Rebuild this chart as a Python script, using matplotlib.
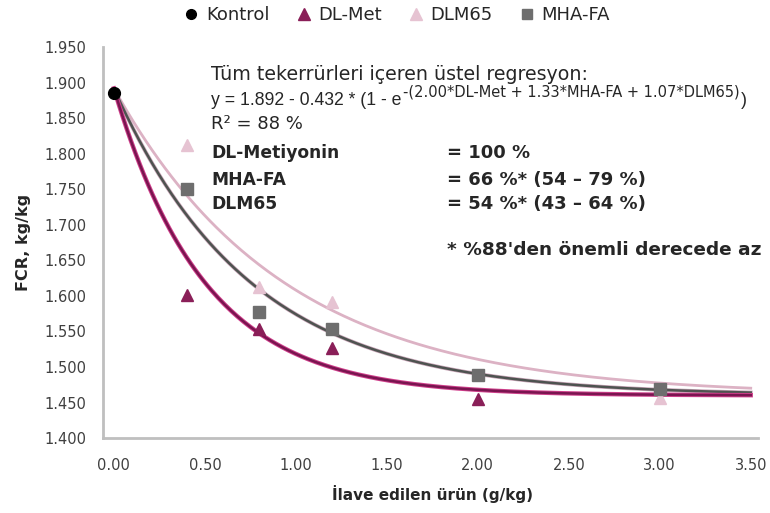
import numpy as np
import matplotlib
matplotlib.use("Agg")
import matplotlib.pyplot as plt
from matplotlib.lines import Line2D
import matplotlib.patheffects as pe

plt.rcParams['font.family'] = ['DejaVu Sans']

# Observed FCR values per dose (g/kg)
kontrol_x = [0.0]
kontrol_y = [1.885]

dlmet_x = [0.4, 0.8, 1.2, 2.0]
dlmet_y = [1.602, 1.553, 1.527, 1.455]

dlm65_x = [0.4, 0.8, 1.2, 3.0]
dlm65_y = [1.812, 1.612, 1.591, 1.457]

mhafa_x = [0.4, 0.8, 1.2, 2.0, 3.0]
mhafa_y = [1.750, 1.577, 1.553, 1.489, 1.469]

# Exponential regression coefficients
intercept = 1.892
span = 0.432
rate_dlmet = 2.00
rate_mhafa = 1.33
rate_dlm65 = 1.07

x_ticks = [0.0, 0.5, 1.0, 1.5, 2.0, 2.5, 3.0, 3.5]
y_ticks = [1.40, 1.45, 1.50, 1.55, 1.60, 1.65, 1.70, 1.75, 1.80, 1.85, 1.90, 1.95]

c_kontrol = "#000000"
c_dlmet = "#8a1f58"
c_dlm65 = "#e6c3d2"
c_mhafa = "#6e6e6e"

fig = plt.figure(figsize=(7.7, 5.13), dpi=100)
ax = fig.add_axes([103 / 770, 0.146, 655 / 770, 0.762])

xs = np.linspace(0, 3.5, 300)

def fit(rate):
    return intercept - span * (1 - np.exp(-rate * xs))

ax.plot(xs, fit(rate_dlm65), color="#dcb2c4", lw=2.0, zorder=2)
ax.plot(xs, fit(rate_mhafa), color="#4e5350", lw=1.8, zorder=3,
        path_effects=[pe.Stroke(linewidth=2.8, foreground="#c9a6b8"), pe.Normal()])
ax.plot(xs, fit(rate_dlmet), color="#7a1550", lw=1.8, zorder=4,
        path_effects=[pe.Stroke(linewidth=3.2, foreground="#d0408c"), pe.Normal()])

ax.plot(dlm65_x, dlm65_y, ls="none", marker="^", ms=9, color=c_dlm65, zorder=5)
ax.plot(mhafa_x, mhafa_y, ls="none", marker="s", ms=9, color=c_mhafa, zorder=6)
ax.plot(dlmet_x, dlmet_y, ls="none", marker="^", ms=9, color=c_dlmet, zorder=7)
ax.plot(kontrol_x, kontrol_y, ls="none", marker="o", ms=8.5, color=c_kontrol,
        zorder=8, clip_on=False)

ax.set_xlim(-0.06, 3.54)
ax.set_ylim(1.40, 1.95)
ax.set_xticks(x_ticks)
ax.set_xticklabels([f"{v:.2f}" for v in x_ticks])
ax.set_yticks(y_ticks)
ax.set_yticklabels([f"{v:.3f}" for v in y_ticks])
ax.tick_params(length=0, labelsize=10.5, colors="#404040")
ax.tick_params(axis="y", pad=12)
ax.tick_params(axis="x", pad=14)

for s in ["top", "right"]:
    ax.spines[s].set_visible(False)
for s in ["left", "bottom"]:
    ax.spines[s].set_color("#bfbfbf")
    ax.spines[s].set_linewidth(2)

ax.set_ylabel("FCR, kg/kg", fontsize=11.5, fontweight="bold", color="#262626")
ax.yaxis.set_label_coords(-(103 - 31) / 655, 0.5)
ax.set_xlabel("İlave edilen ürün (g/kg)", fontsize=11, fontweight="bold",
              color="#262626")
ax.xaxis.set_label_coords((432 - 103) / 655, -(485 - 438) / 391)

# Legend across the top
handles = [
    Line2D([], [], ls="none", marker="o", ms=7, color=c_kontrol),
    Line2D([], [], ls="none", marker="^", ms=8, color=c_dlmet),
    Line2D([], [], ls="none", marker="^", ms=8, color=c_dlm65),
    Line2D([], [], ls="none", marker="s", ms=7, color=c_mhafa),
]
labels = ["Kontrol", "DL-Met", "DLM65", "MHA-FA"]
fig.legend(handles, labels, loc="center", bbox_to_anchor=(398 / 770, 0.970), ncol=4,
           frameon=False, fontsize=13, handlelength=0.6, handletextpad=0.5,
           columnspacing=1.6, labelcolor="#262626")

# Regression annotation
tc = "#262626"
fs = 13
tx = 211 / 770
fig.text(tx, 0.854, "Tüm tekerrürleri içeren üstel regresyon:", fontsize=13.7,
         color=tc, va="center")
eq = fig.text(tx, 0.805, "y = 1.892 - 0.432 * (1 - e", fontsize=12.7, color=tc,
              va="center", family="Liberation Sans")
sup = ax.annotate("-(2.00*DL-Met + 1.33*MHA-FA + 1.07*DLM65)", xy=(1, 0.55),
                  xycoords=eq, xytext=(1.0, 0), textcoords="offset points",
                  fontsize=10.5, color=tc, va="bottom", ha="left")
ax.annotate(")", xy=(1, 0.5), xycoords=(sup, eq), xytext=(1, 0),
            textcoords="offset points", fontsize=12.7, color=tc, va="center",
            ha="left", family="Liberation Sans")
fig.text(tx, 0.758, "R² = 88 %", fontsize=fs, color=tc, va="center")

rows = [("DL-Metiyonin", "= 100 %", 0.702),
        ("MHA-FA", "= 66 %* (54 – 79 %)", 0.650),
        ("DLM65", "= 54 %* (43 – 64 %)", 0.602)]
for name, val, yy in rows:
    fig.text(tx, yy, name, fontsize=12.3, fontweight="bold", color=tc, va="center")
    fig.text(447 / 770, yy, val, fontsize=fs, fontweight="bold", color=tc,
             va="center")
fig.text(447 / 770, 0.513, "* %88'den önemli derecede az", fontsize=13.3,
         fontweight="bold", color=tc, va="center")

fig.savefig("out.png", dpi=100, facecolor="white")
